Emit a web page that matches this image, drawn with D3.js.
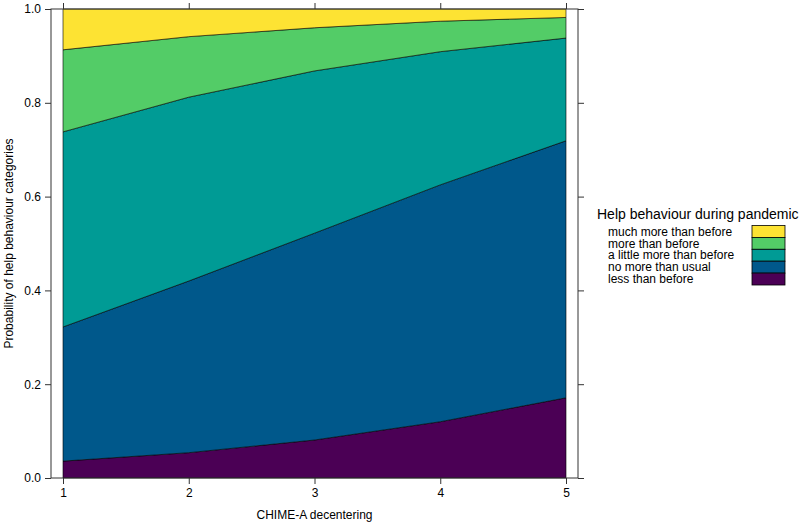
<!DOCTYPE html>
<html><head><meta charset="utf-8">
<script src="https://cdn.jsdelivr.net/npm/d3@7"></script>
<style>body{margin:0;background:#fff}svg{display:block;font-family:"Liberation Sans",Arial,Helvetica,sans-serif}</style>
</head><body><svg id="c" width="800" height="525"></svg>
<script>
const xValues = [1, 2, 3, 4, 5];
const categories = ["less than before", "no more than usual", "a little more than before", "more than before", "much more than before"];
const lessThanBefore = [0.036, 0.054, 0.081, 0.120, 0.171];
const noMoreThanUsual = [0.286, 0.366, 0.441, 0.505, 0.548];
const aLittleMore = [0.416, 0.392, 0.346, 0.284, 0.219];
const moreThanBefore = [0.175, 0.129, 0.092, 0.065, 0.044];
const muchMore = [0.087, 0.059, 0.040, 0.026, 0.018];
const colors = ["#4B0055", "#00588B", "#009B95", "#53CC67", "#FDE333"];
const yTicks = [0, 0.2, 0.4, 0.6, 0.8, 1.0];
const xTitle = "CHIME-A decentering";
const yTitle = "Probability of help behaviour categories";
const legendTitle = "Help behaviour during pandemic";

const seriesVals = [lessThanBefore, noMoreThanUsual, aLittleMore, moreThanBefore, muchMore];
const rows = xValues.map((x, i) => {
  const r = {x};
  categories.forEach((c, j) => r[c] = seriesVals[j][i]);
  return r;
});
const stacked = d3.stack().keys(categories)(rows);

const svg = d3.select("#c");
const frame = {l: 51, r: 578, t: 9, b: 478};
const x = d3.scaleLinear().domain([1, 5]).range([63, 566]);
const y = d3.scaleLinear().domain([0, 1]).range([frame.b, frame.t]);

const area = d3.area().x(d => x(d.data.x)).y0(d => y(d[0])).y1(d => y(d[1]));
svg.append("g").selectAll("path").data(stacked).join("path")
  .attr("d", area).attr("fill", (d, i) => colors[i])
  .attr("stroke", "#000").attr("stroke-width", 0.6).attr("stroke-linejoin", "round");

// frame
svg.append("rect").attr("x", frame.l).attr("y", frame.t)
  .attr("width", frame.r - frame.l).attr("height", frame.b - frame.t)
  .attr("fill", "none").attr("stroke", "#333").attr("stroke-width", 1);

const styleAxis = g => {
  g.select(".domain").remove();
  g.selectAll("line").attr("stroke", "#333");
  g.selectAll("text").attr("fill", "#000").style("font-size", "12px")
    .style("font-family", "'Liberation Sans', Arial, sans-serif");
};
svg.append("g").attr("transform", `translate(${frame.l},0)`)
  .call(d3.axisLeft(y).tickValues(yTicks).tickFormat(d3.format(".1f")).tickSize(6).tickPadding(4))
  .call(styleAxis);
svg.append("g").attr("transform", `translate(${frame.r},0)`)
  .call(d3.axisRight(y).tickValues(yTicks).tickFormat("").tickSize(6))
  .call(styleAxis);
svg.append("g").attr("transform", `translate(0,${frame.b})`)
  .call(d3.axisBottom(x).tickValues(xValues).tickFormat(d3.format("d")).tickSize(6).tickPadding(4))
  .call(styleAxis);
svg.append("g").attr("transform", `translate(0,${frame.t})`)
  .call(d3.axisTop(x).tickValues(xValues).tickFormat("").tickSize(6))
  .call(styleAxis);

svg.append("text").attr("x", (frame.l + frame.r) / 2).attr("y", 519)
  .attr("text-anchor", "middle").style("font-size", "12px").text(xTitle);
svg.append("text").attr("transform", `translate(13,${(frame.t + frame.b) / 2}) rotate(-90)`)
  .attr("text-anchor", "middle").style("font-size", "12px").text(yTitle);

// legend
const lg = svg.append("g");
lg.append("text").attr("x", 597).attr("y", 219).style("font-size", "14px").text(legendTitle);
const legendOrder = categories.map((c, i) => i).reverse();
const rowH = 11.9, top0 = 225.5;
legendOrder.forEach((ci, k) => {
  lg.append("rect").attr("x", 752).attr("y", top0 + k * rowH).attr("width", 33).attr("height", rowH)
    .attr("fill", colors[ci]).attr("stroke", "#000").attr("stroke-width", 0.8);
});
const lt = lg.append("text").attr("x", 608).attr("y", top0 + rowH / 2 + 4.2).style("font-size", "12px");
legendOrder.forEach((ci, k) => {
  lt.append("tspan").attr("x", 608).attr("dy", k === 0 ? 0 : rowH).text(categories[ci]);
});
</script></body></html>
